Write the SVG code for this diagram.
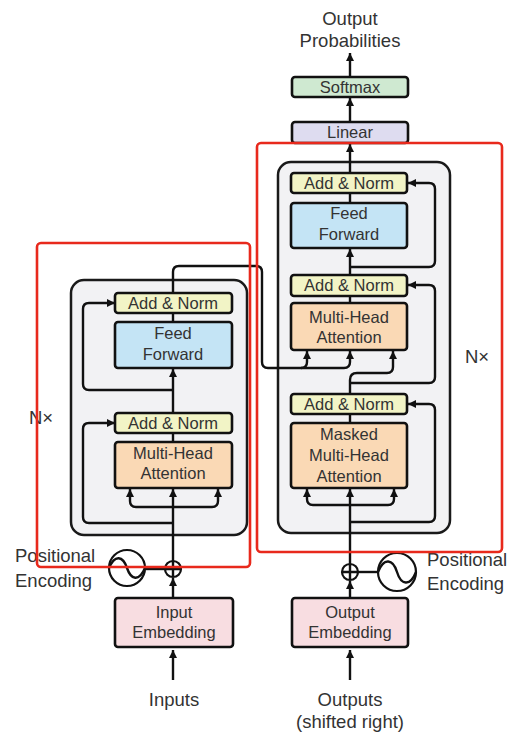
<svg xmlns="http://www.w3.org/2000/svg" width="509" height="734" viewBox="0 0 509 734">
<defs>
<marker id="ah" viewBox="0 0 10 10" refX="10" refY="5" markerWidth="8" markerHeight="8" markerUnits="userSpaceOnUse" orient="auto"><path d="M0,0 L10,5 L0,10 z" fill="#111"/></marker>
<style>
.panel{fill:#f2f2f4;stroke:#1a1a1a;stroke-width:2.5}
.box{stroke:#111;stroke-width:2.6}
.an{fill:#f2f4c6}
.ff{fill:#c4e4f5}
.mha{fill:#fad9b5}
.emb{fill:#f8dde1}
.sm{fill:#cfe9d1}
.lin{fill:#dedcf0}
.t{font-family:"Liberation Sans",Arial,sans-serif;font-size:16.5px;fill:#333;text-anchor:middle}
.lbl{font-family:"Liberation Sans",Arial,sans-serif;font-size:18.5px;fill:#333}
.c{text-anchor:middle}
.ln{fill:none;stroke:#111;stroke-width:2.4}
.ar{fill:none;stroke:#111;stroke-width:2.4;marker-end:url(#ah)}
.red{fill:none;stroke:#e8291c;stroke-width:2.6}
.pe{fill:#fff;stroke:#111;stroke-width:2.2}
</style>
</defs>
<rect width="509" height="734" fill="#fff"/>

<g id="encoder-panel"><rect class="panel" x="71" y="280" width="176" height="255" rx="13"/></g>
<g id="decoder-panel"><rect class="panel" x="278" y="162" width="172" height="371" rx="13"/></g>

<g id="connectors">
<path class="ar" d="M173 680 V650"/>
<path class="ar" d="M173 598 V578"/>
<path class="ln" d="M146 569 H165"/>
<path class="ar" d="M173 561 V489"/>
<path class="ar" d="M173 507 H136 Q130 507 130 501 V489"/>
<path class="ar" d="M173 507 H212 Q218 507 218 501 V489"/>
<path class="ar" d="M173 523 H89 Q83 523 83 517 V429 Q83 423 89 423 H115"/>
<path class="ln" d="M173 442 V433"/>
<path class="ar" d="M173 413 V369"/>
<path class="ar" d="M173 390 H89 Q83 390 83 384 V309 Q83 303 89 303 H115"/>
<path class="ln" d="M173 322 V313"/>
<path class="ar" d="M173 293 V272 Q173 266 179 266 H256 Q262 266 262 272 V362 Q262 368 268 368 H301 Q307 368 307 362 V351"/>
<path class="ar" d="M301 368 H344 Q350 368 350 362 V351"/>

<path class="ar" d="M350 680 V650"/>
<path class="ar" d="M350 598 V581"/>
<path class="ln" d="M358 572 H378"/>
<path class="ar" d="M350 564 V489"/>
<path class="ar" d="M350 505 H313 Q307 505 307 499 V489"/>
<path class="ar" d="M350 505 H388 Q394 505 394 499 V489"/>
<path class="ar" d="M350 522 H429 Q435 522 435 516 V410 Q435 404 429 404 H408"/>
<path class="ln" d="M350 423 V414"/>
<path class="ar" d="M350 394 V380 Q350 373 357 373 H387 Q393 373 393 367 V351"/>
<path class="ar" d="M350 383 H429 Q435 383 435 377 V291 Q435 285 429 285 H408"/>
<path class="ln" d="M350 303 V296"/>
<path class="ar" d="M350 275 V249"/>
<path class="ar" d="M350 267 H429 Q435 267 435 261 V189 Q435 183 429 183 H408"/>
<path class="ln" d="M350 203 V193"/>
<path class="ar" d="M350 173 V144"/>
<path class="ar" d="M350 122 V98"/>
<path class="ar" d="M350 77 V53"/>
</g>

<g id="enc-addnorm2"><rect class="box an" x="115" y="293" width="117" height="20" rx="3"/><text class="t" x="173" y="309">Add &amp; Norm</text></g>
<g id="enc-ff"><rect class="box ff" x="115" y="322" width="117" height="46" rx="3"/><text class="t" x="173" y="339">Feed</text><text class="t" x="173" y="360">Forward</text></g>
<g id="enc-addnorm1"><rect class="box an" x="115" y="413" width="117" height="20" rx="3"/><text class="t" x="173" y="429">Add &amp; Norm</text></g>
<g id="enc-mha"><rect class="box mha" x="115" y="442" width="117" height="46" rx="3"/><text class="t" x="173" y="459">Multi-Head</text><text class="t" x="173" y="479">Attention</text></g>
<g id="enc-embedding"><rect class="box emb" x="115" y="598" width="118" height="49" rx="3"/><text class="t" x="174" y="618">Input</text><text class="t" x="174" y="638">Embedding</text></g>
<g id="enc-plus"><circle class="pe" cx="173" cy="569" r="8"/><path class="ln" stroke-width="1.8" d="M165 569 H181 M173 561 V577"/></g>
<g id="enc-posenc"><circle class="pe" cx="127" cy="568" r="18"/><path class="ln" stroke-width="2" d="M109 568 C115 554 123 556 127 568 C131 580 139 582 145 568"/></g>
<g id="enc-nx"><text class="lbl" x="29" y="424">N×</text></g>
<g id="enc-pe-label"><text class="lbl" x="15" y="562">Positional</text><text class="lbl" x="15" y="587">Encoding</text></g>
<g id="inputs"><text class="lbl c" x="174" y="706">Inputs</text></g>

<g id="dec-addnorm3"><rect class="box an" x="291" y="173" width="116" height="20" rx="3"/><text class="t" x="349" y="189">Add &amp; Norm</text></g>
<g id="dec-ff"><rect class="box ff" x="291" y="203" width="116" height="45" rx="3"/><text class="t" x="349" y="219">Feed</text><text class="t" x="349" y="240">Forward</text></g>
<g id="dec-addnorm2"><rect class="box an" x="291" y="275" width="116" height="21" rx="3"/><text class="t" x="349" y="291">Add &amp; Norm</text></g>
<g id="dec-mha"><rect class="box mha" x="291" y="303" width="116" height="47" rx="3"/><text class="t" x="349" y="323">Multi-Head</text><text class="t" x="349" y="343">Attention</text></g>
<g id="dec-addnorm1"><rect class="box an" x="291" y="394" width="116" height="20" rx="3"/><text class="t" x="349" y="410">Add &amp; Norm</text></g>
<g id="dec-masked"><rect class="box mha" x="291" y="423" width="116" height="65" rx="3"/><text class="t" x="349" y="440">Masked</text><text class="t" x="349" y="461">Multi-Head</text><text class="t" x="349" y="482">Attention</text></g>
<g id="dec-embedding"><rect class="box emb" x="292" y="598" width="116" height="49" rx="3"/><text class="t" x="350" y="618">Output</text><text class="t" x="350" y="638">Embedding</text></g>
<g id="dec-plus"><circle class="pe" cx="350" cy="572" r="8"/><path class="ln" stroke-width="1.8" d="M342 572 H358 M350 564 V580"/></g>
<g id="dec-posenc"><circle class="pe" cx="397" cy="572" r="19"/><path class="ln" stroke-width="2" d="M378 572 C384 557 393 559 397 572 C401 585 410 587 416 572"/></g>
<g id="dec-nx"><text class="lbl" x="465" y="363">N×</text></g>
<g id="dec-pe-label"><text class="lbl" x="427" y="566">Positional</text><text class="lbl" x="427" y="590">Encoding</text></g>
<g id="outputs"><text class="lbl c" x="350" y="706">Outputs</text><text class="lbl c" x="350" y="728">(shifted right)</text></g>

<g id="linear"><rect class="box lin" x="292" y="122" width="116" height="21" rx="3"/><text class="t" x="350" y="138">Linear</text></g>
<g id="softmax"><rect class="box sm" x="292" y="77" width="116" height="20" rx="3"/><text class="t" x="350" y="93">Softmax</text></g>
<g id="out-prob"><text class="lbl c" x="350" y="25">Output</text><text class="lbl c" x="350" y="47">Probabilities</text></g>

<g id="highlights">
<rect class="red" x="37" y="243" width="213" height="324" rx="4"/>
<rect class="red" x="257" y="143" width="245" height="409" rx="4"/>
</g>
</svg>
